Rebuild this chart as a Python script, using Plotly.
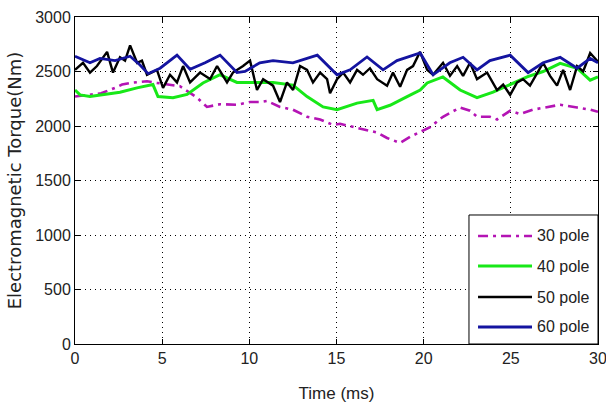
import plotly.graph_objects as go

# ---------------- data ----------------
t30 = [0.0, 1.0, 1.5, 2.3, 2.7, 3.16, 4.13, 4.7, 5.45, 6.02, 7.0, 7.57, 8.32, 9.29, 10.04,
       10.6, 11.0, 11.76, 12.5, 13.31, 14.06, 14.8, 15.2, 16.18, 16.75, 17.33, 17.9, 18.65,
       19.22, 19.97, 20.37, 21.11, 21.69, 22.09, 22.66, 23.06, 23.8, 24.21, 24.96, 25.53,
       26.28, 27.08, 27.83, 28.8, 29.55, 30.0]
pole30 = [2270, 2290, 2300, 2350, 2380, 2395, 2410, 2395, 2380, 2365, 2260, 2175, 2200, 2195, 2220,
          2220, 2230, 2175, 2150, 2085, 2060, 2010, 2020, 1985, 1960, 1940, 1890, 1845,
          1900, 1960, 1990, 2085, 2140, 2170, 2140, 2085, 2085, 2060, 2140, 2110,
          2150, 2170, 2195, 2170, 2150, 2130]

t40 = [0.0, 0.29, 0.86, 1.6, 2.58, 3.56, 4.47, 4.76, 5.62, 6.43, 7.34, 8.32, 9.29, 10.04,
       11.36, 12.5, 13.31, 14.23, 15.03, 16.18, 17.1, 17.33, 18.07, 19.05, 19.8, 20.2, 21.1,
       22.09, 23.06, 23.98, 24.96, 25.93, 26.85, 27.83, 28.8, 29.55, 30.0]
pole40 = [2330, 2285, 2270, 2285, 2310, 2350, 2380, 2270, 2260, 2290, 2395, 2470, 2400, 2400,
          2400, 2375, 2270, 2175, 2150, 2210, 2235, 2150, 2190, 2270, 2330, 2395, 2450,
          2330, 2260, 2310, 2380, 2450, 2500, 2575, 2530, 2420, 2450]

t50 = [0.0, 0.46, 0.86, 1.26, 1.84, 2.18, 2.58, 2.87, 3.16, 3.56, 3.84, 4.13, 4.7, 5.05, 5.45,
       5.85, 6.2, 6.6, 7.17, 7.75, 8.15, 8.72, 9.06, 9.64, 10.04, 10.44, 10.79, 11.36, 11.76,
       12.16, 12.51, 12.91, 13.31, 13.65, 14.06, 14.46, 14.63, 15.03, 15.38, 15.78, 16.18,
       16.52, 16.92, 17.33, 17.9, 18.24, 18.65, 19.05, 19.39, 19.79, 20.2, 20.54, 21.11,
       21.51, 21.92, 22.26, 22.66, 23.06, 23.64, 24.21, 24.56, 24.96, 25.36, 25.7, 26.1,
       26.51, 26.85, 27.25, 27.65, 28.0, 28.4, 28.8, 29.15, 29.55, 30.0]
pole50 = [2515, 2580, 2490, 2550, 2680, 2490, 2630, 2600, 2740, 2580, 2600, 2470, 2515, 2350, 2470,
          2400, 2550, 2400, 2490, 2430, 2550, 2400, 2490, 2550, 2600, 2330, 2430, 2370, 2220,
          2400, 2330, 2550, 2515, 2400, 2490, 2430, 2300, 2430, 2490, 2400, 2515,
          2470, 2530, 2430, 2370, 2490, 2360, 2515, 2550, 2680, 2515, 2470, 2580,
          2460, 2550, 2460, 2580, 2430, 2490, 2330, 2380, 2285, 2400, 2430, 2370,
          2490, 2580, 2460, 2370, 2515, 2330, 2550, 2500, 2670, 2590]

t60 = [0.0, 0.86, 1.43, 2.3, 3.16, 3.73, 4.19, 4.88, 5.85, 6.6, 7.46, 8.32, 9.29, 9.75,
       10.6, 11.36, 12.5, 13.9, 15.03, 15.78, 16.75, 17.67, 18.47, 19.8, 20.54, 21.5, 22.26,
       23.06, 23.8, 24.96, 25.99, 26.85, 27.83, 28.8, 29.55, 30.0]
pole60 = [2640, 2580, 2620, 2600, 2640, 2560, 2480, 2530, 2650, 2520, 2580, 2650, 2490, 2500,
          2580, 2600, 2580, 2650, 2470, 2515, 2633, 2515, 2600, 2670, 2470, 2580, 2630,
          2515, 2600, 2650, 2490, 2580, 2630, 2530, 2620, 2580]

names = ["30 pole", "40 pole", "50 pole", "60 pole"]
x_ticks = [0, 5, 10, 15, 20, 25, 30]
y_ticks = [0, 500, 1000, 1500, 2000, 2500, 3000]

# ---------------- styles ----------------
styles = [
    dict(color="#B414B4", width=2.6, dash="10px,5px,3px,5px"),
    dict(color="#18E818", width=3),
    dict(color="#000000", width=2.4),
    dict(color="#1414A0", width=2.8),
]
FONT = "Liberation Sans, Arial, sans-serif"

fig = go.Figure()
for tx, vy, nm, ln in zip([t30, t40, t50, t60], [pole30, pole40, pole50, pole60], names, styles):
    fig.add_trace(go.Scatter(x=tx, y=vy, mode="lines", name=nm, line=ln, showlegend=False))

axis_common = dict(
    showline=True, linecolor="black", linewidth=1, mirror="allticks",
    ticks="inside", ticklen=5, tickcolor="black",
    showgrid=True, gridcolor="black", gridwidth=1, griddash="1px,4px",
    zeroline=False, ticklabeloverflow="allow", automargin=False,
    tickfont=dict(family=FONT, size=16, color="#222"),
)

fig.update_xaxes(range=[0, 30], tickvals=x_ticks,
                 title=dict(text="Time (ms)", standoff=22,
                            font=dict(family=FONT, size=17, color="#222")),
                 **axis_common)
fig.update_yaxes(range=[0, 3000], tickvals=y_ticks,
                 title=dict(text="Electromagnetic Torque(Nm)", standoff=8,
                            font=dict(family="DejaVu Sans, sans-serif", size=18, color="#222")),
                 **axis_common)

# ---------------- legend box (drawn in paper coordinates) ----------------
shapes = [dict(type="rect", xref="paper", yref="paper", x0=0.7533, x1=1.0, y0=0.0, y1=0.3945,
               line=dict(color="black", width=1), fillcolor="white", layer="above")]
annotations = []
legend_y = [0.3303, 0.2385, 0.1437, 0.0520]
for nm, ln, yy in zip(names, styles, legend_y):
    shapes.append(dict(type="line", xref="paper", yref="paper", x0=0.7706, x1=0.8738, y0=yy, y1=yy,
                       line=dict(color=ln["color"], width=ln["width"], dash=ln.get("dash", "solid")),
                       layer="above"))
    annotations.append(dict(xref="paper", yref="paper", x=0.8795, y=yy, xanchor="left", yanchor="middle",
                            text=nm, showarrow=False, font=dict(family=FONT, size=16, color="#222")))

fig.update_layout(
    width=606, height=403,
    margin=dict(l=75, r=8, t=17, b=59),
    paper_bgcolor="white", plot_bgcolor="white",
    showlegend=False,
    shapes=shapes, annotations=annotations,
)

fig.write_html("out.html")
